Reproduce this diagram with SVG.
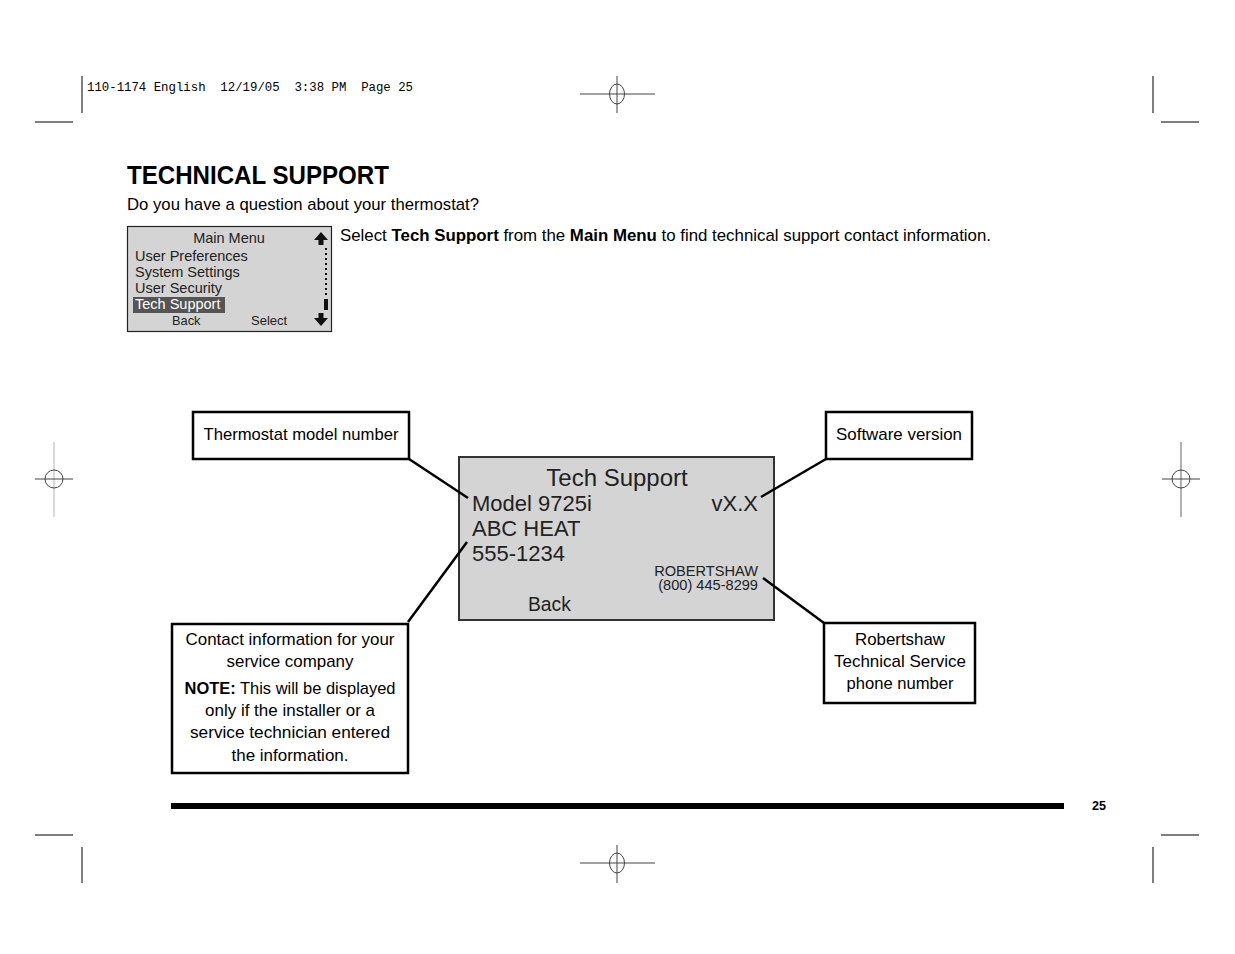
<svg xmlns="http://www.w3.org/2000/svg" width="1235" height="954" viewBox="0 0 1235 954">
<style>
.c{font-family:"Liberation Sans",Arial,sans-serif;fill:#000}
.n{font-family:"Liberation Sans",Arial,sans-serif;font-size:17px;fill:#000}
.s{font-family:"Liberation Sans",Arial,sans-serif;fill:#222}
.box{fill:#fff;stroke:#000;stroke-width:2.5}
.scr{fill:#d4d4d4;stroke:#333;stroke-width:2}
.crop{stroke:#000;stroke-width:1;fill:none}
.reg{stroke:#444;stroke-width:1;fill:none}
.lead{stroke:#000;stroke-width:2.5;fill:none}
</style>
<rect width="1235" height="954" fill="#fff"/>
<g id="printmarks">
<text x="87" y="91" font-family="Liberation Mono,monospace" font-size="12" xml:space="preserve" style="white-space:pre" textLength="326" lengthAdjust="spacingAndGlyphs">110-1174 English  12/19/05  3:38 PM  Page 25</text>
<path class="crop" d="M82 76V113M35 122H73M1153 76V113M1161 122H1199M35 835H73M1161 835H1199M82 847V883M1153 847V883"/>
<path class="reg" d="M617 76V113M580 94H655M617 845V883M580 863H655"/>
<ellipse class="reg" cx="617" cy="94" rx="7.5" ry="10"/>
<ellipse class="reg" cx="617" cy="863" rx="7.5" ry="10"/>
<path d="M54 442V517" stroke="#ccc" stroke-width="1.5"/>
<path class="reg" d="M35 479H73"/>
<circle class="reg" cx="54" cy="479" r="9"/>
<path d="M1181 442V517" stroke="#999" stroke-width="1.5"/>
<path class="reg" d="M1162 479H1200"/>
<circle class="reg" cx="1181" cy="479" r="9"/>
</g>
<g id="heading">
<text x="127" y="184" class="c" font-size="26" font-weight="bold" textLength="262" lengthAdjust="spacingAndGlyphs">TECHNICAL SUPPORT</text>
<text x="127" y="210" class="n" textLength="352" lengthAdjust="spacingAndGlyphs">Do you have a question about your thermostat?</text>
<text x="340" y="241" class="n" textLength="651" lengthAdjust="spacingAndGlyphs">Select <tspan font-weight="bold">Tech Support</tspan> from the <tspan font-weight="bold">Main Menu</tspan> to find technical support contact information.</text>
</g>
<g id="main-menu">
<rect x="127.5" y="226.5" width="204" height="105" fill="#d4d4d4" stroke="#222" stroke-width="1.2"/>
<text x="229" y="243" class="s" font-size="14.5" text-anchor="middle">Main Menu</text>
<text x="135" y="261" class="s" font-size="14.5">User Preferences</text>
<text x="135" y="277" class="s" font-size="14.5">System Settings</text>
<text x="135" y="293" class="s" font-size="14.5">User Security</text>
<rect x="133" y="297" width="92" height="16" fill="#555"/>
<text x="135" y="309" font-family="Liberation Sans,Arial,sans-serif" font-size="14.5" fill="#fff">Tech Support</text>
<text x="172" y="325" class="s" font-size="12.8">Back</text>
<text x="251" y="325" class="s" font-size="13">Select</text>
<path d="M321 232L314 240H318.5V245H323.5V240H328Z" fill="#111"/>
<path d="M326 248V296" stroke="#111" stroke-width="2" stroke-dasharray="2 3"/>
<rect x="324" y="299" width="4" height="11" fill="#111"/>
<path d="M321 326L314 318H318.5V313H323.5V318H328Z" fill="#111"/>
</g>
<g id="tech-support-screen">
<rect class="scr" x="459" y="457" width="315" height="163"/>
<text x="617" y="486" class="s" font-size="24" text-anchor="middle">Tech Support</text>
<text x="472" y="511" class="s" font-size="22">Model 9725i</text>
<text x="758" y="511" class="s" font-size="22" text-anchor="end">vX.X</text>
<text x="472" y="536" class="s" font-size="22">ABC HEAT</text>
<text x="472" y="561" class="s" font-size="22">555-1234</text>
<text x="758" y="576" class="s" font-size="14.6" text-anchor="end">ROBERTSHAW</text>
<text x="758" y="590" class="s" font-size="14.6" text-anchor="end">(800) 445-8299</text>
<text x="528" y="611" class="s" font-size="19.3">Back</text>
</g>
<g id="callout-model">
<rect class="box" x="193" y="412" width="216" height="47"/>
<text x="301" y="440" class="n" font-size="17" text-anchor="middle" textLength="195" lengthAdjust="spacingAndGlyphs">Thermostat model number</text>
</g>
<g id="callout-software">
<rect class="box" x="826" y="412" width="146" height="47"/>
<text x="899" y="440" class="n" text-anchor="middle" textLength="126" lengthAdjust="spacingAndGlyphs">Software version</text>
</g>
<g id="callout-contact">
<rect class="box" x="172" y="624" width="236" height="149"/>
<text x="290" y="645" class="n" text-anchor="middle" textLength="209" lengthAdjust="spacingAndGlyphs">Contact information for your</text>
<text x="290" y="667" class="n" text-anchor="middle" textLength="127" lengthAdjust="spacingAndGlyphs">service company</text>
<text x="290" y="694" class="n" text-anchor="middle" textLength="211" lengthAdjust="spacingAndGlyphs"><tspan font-weight="bold">NOTE:</tspan> This will be displayed</text>
<text x="290" y="716" class="n" text-anchor="middle" textLength="170" lengthAdjust="spacingAndGlyphs">only if the installer or a</text>
<text x="290" y="738" class="n" text-anchor="middle" textLength="200" lengthAdjust="spacingAndGlyphs">service technician entered</text>
<text x="290" y="761" class="n" text-anchor="middle" textLength="117" lengthAdjust="spacingAndGlyphs">the information.</text>
</g>
<g id="callout-robertshaw">
<rect class="box" x="824" y="623" width="151" height="80"/>
<text x="900" y="645" class="n" text-anchor="middle" textLength="90" lengthAdjust="spacingAndGlyphs">Robertshaw</text>
<text x="900" y="667" class="n" text-anchor="middle" textLength="132" lengthAdjust="spacingAndGlyphs">Technical Service</text>
<text x="900" y="689" class="n" text-anchor="middle" textLength="107" lengthAdjust="spacingAndGlyphs">phone number</text>
</g>
<g id="connectors">
<path class="lead" d="M409 459L468 498"/>
<path class="lead" d="M826 459L761 497"/>
<path class="lead" d="M408 622L467 542"/>
<path class="lead" d="M763 578L824 623"/>
</g>
<g id="footer">
<rect x="171" y="803" width="893" height="6" fill="#000"/>
<text x="1092" y="810" class="c" font-size="12" font-weight="bold" textLength="14" lengthAdjust="spacingAndGlyphs">25</text>
</g>
</svg>
